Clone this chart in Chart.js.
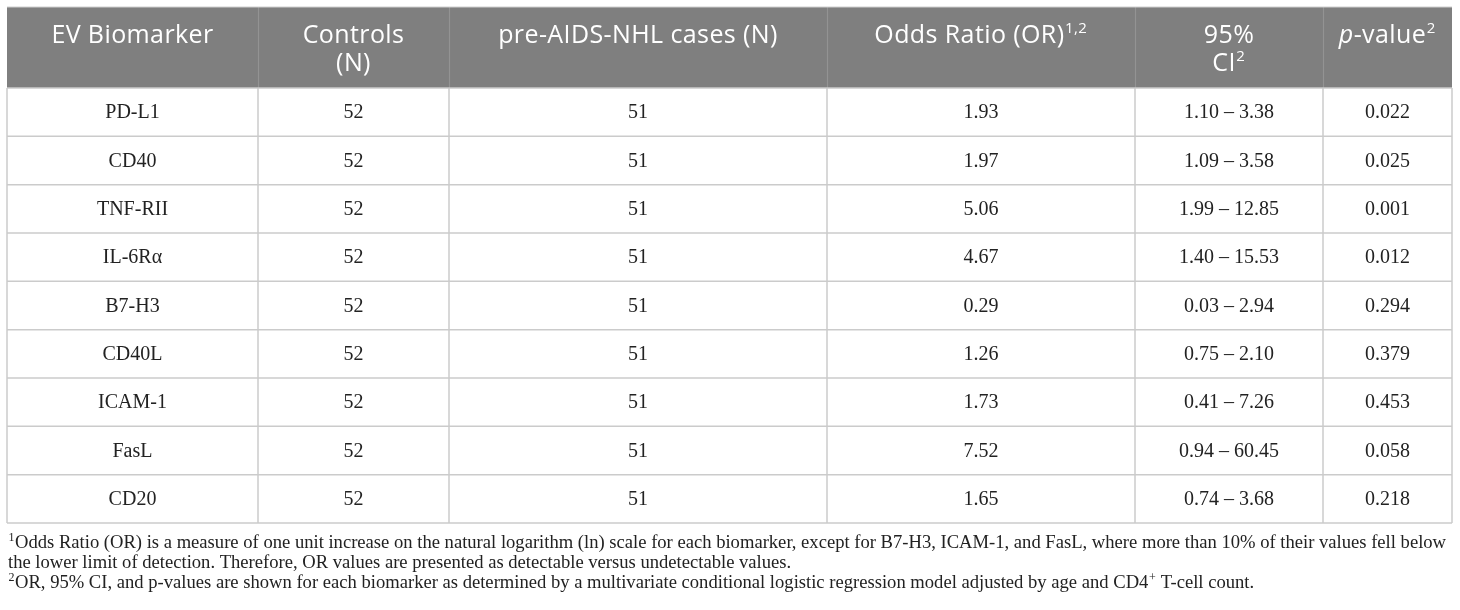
<!DOCTYPE html>
<html><head><meta charset="utf-8">
<script src="https://cdn.jsdelivr.net/npm/chart.js@4.4.1/dist/chart.umd.min.js"></script>
<style>html,body{margin:0;padding:0;background:#fff}#wrap{width:1460px;height:610px;position:relative}</style>
</head><body><div id="wrap"><canvas id="c"></canvas></div>
<script>
// ---- data ----
const biomarkers = ['PD-L1','CD40','TNF-RII','IL-6R\u03B1','B7-H3','CD40L','ICAM-1','FasL','CD20'];
const controlsN  = [52,52,52,52,52,52,52,52,52];
const casesN     = [51,51,51,51,51,51,51,51,51];
const oddsRatio  = [1.93,1.97,5.06,4.67,0.29,1.26,1.73,7.52,1.65];
const ciLow      = [1.10,1.09,1.99,1.40,0.03,0.75,0.41,0.94,0.74];
const ciHigh     = [3.38,3.58,12.85,15.53,2.94,2.10,7.26,60.45,3.68];
const pValues    = [0.022,0.025,0.001,0.012,0.294,0.379,0.453,0.058,0.218];

const headerLabels = [
  [[{t:'EV Biomarker'}]],
  [[{t:'Controls'}],[{t:'(N)'}]],
  [[{t:'pre-AIDS-NHL cases (N)'}]],
  [[{t:'Odds Ratio (OR)'},{t:'1,2',sup:true}]],
  [[{t:'95%'}],[{t:'CI'},{t:'2',sup:true}]],
  [[{t:'p',it:true},{t:'-value'},{t:'2',sup:true}]]
];
const footnotes = [
  [{t:'1',sup:true},{t:'Odds Ratio (OR) is a measure of one unit increase on the natural logarithm (ln) scale for each biomarker, except for B7-H3, ICAM-1, and FasL, where more than 10% of their values fell below'}],
  [{t:'the lower limit of detection. Therefore, OR values are presented as detectable versus undetectable values.'}],
  [{t:'2',sup:true},{t:'OR, 95% CI, and p-values are shown for each biomarker as determined by a multivariate conditional logistic regression model adjusted by age and CD4'},{t:'+',sup:true},{t:' T-cell count.'}]
];

// ---- layout (column widths in px-units of the x scale) ----
const colWidths = [251,191,378,308,188,129];
const colEdges = colWidths.reduce((a,w)=>{a.push(a[a.length-1]+w);return a;},[0]);
const HEADER_H = 81;
const HEAD_FONT = '"Open Sans", Lato, sans-serif';
const BODY_FONT = '"Liberation Serif", "Times New Roman", serif';

function cellText(r,c){
  switch(c){
    case 0: return biomarkers[r];
    case 1: return String(controlsN[r]);
    case 2: return String(casesN[r]);
    case 3: return oddsRatio[r].toFixed(2);
    case 4: return ciLow[r].toFixed(2)+' \u2013 '+ciHigh[r].toFixed(2);
    case 5: return pValues[r].toFixed(3);
  }
}

function richWidth(ctx, parts, base, supSize, fam){
  let w=0;
  for(const p of parts){
    ctx.font = (p.it?'italic ':'') + (p.sup?supSize:base) + 'px ' + fam;
    w += ctx.measureText(p.t).width + (p.sup?1:0);
  }
  return w;
}
function drawRich(ctx, parts, x, y, base, supSize, fam, raise, align){
  const w = richWidth(ctx, parts, base, supSize, fam);
  let cx = align==='center' ? x - w/2 : x;
  ctx.textAlign='left';
  ctx.textBaseline='alphabetic';
  for(const p of parts){
    ctx.font = (p.it?'italic ':'') + (p.sup?supSize:base) + 'px ' + fam;
    ctx.fillText(p.t, cx + (p.sup?0.5:0), p.sup ? y - raise : y);
    cx += ctx.measureText(p.t).width + (p.sup?1:0);
  }
}

const tablePlugin = {
  id:'tablePlugin',
  afterDraw(chart){
    const {ctx, chartArea, scales:{x,y}} = chart;
    const left = x.getPixelForValue(colEdges[0]);
    const right = x.getPixelForValue(colEdges[colEdges.length-1]);
    const top = chartArea.top, bottom = chartArea.bottom;
    const hTop = top - HEADER_H;
    const n = biomarkers.length;
    const band = (bottom-top)/n;
    ctx.save();
    // header background
    ctx.fillStyle = '#7f7f7f';
    ctx.fillRect(left, hTop, right-left, HEADER_H);
    // header vertical separators
    ctx.strokeStyle = '#939393';
    ctx.lineWidth = 1.2;
    for(let i=1;i<colEdges.length-1;i++){
      const px = Math.round(x.getPixelForValue(colEdges[i]))+0.5;
      ctx.beginPath(); ctx.moveTo(px,hTop); ctx.lineTo(px,top); ctx.stroke();
    }
    // body grid
    ctx.strokeStyle = '#cbcbcb';
    ctx.lineWidth = 1.5;
    for(let r=0;r<=n;r++){
      const py = r===n ? bottom : y.getPixelForValue(r) - band/2;
      ctx.beginPath(); ctx.moveTo(left,py); ctx.lineTo(right,py); ctx.stroke();
    }
    for(let i=0;i<colEdges.length;i++){
      const px = x.getPixelForValue(colEdges[i]);
      ctx.beginPath(); ctx.moveTo(px,top); ctx.lineTo(px,bottom); ctx.stroke();
    }
    // outer top border
    ctx.strokeStyle = '#cfcfcf';
    ctx.lineWidth = 1.2;
    ctx.beginPath(); ctx.moveTo(left,hTop); ctx.lineTo(right,hTop); ctx.stroke();
    // header text
    ctx.fillStyle = '#ffffff';
    ctx.letterSpacing = '0.4px';
    headerLabels.forEach((lines,c)=>{
      const cx = x.getPixelForValue((colEdges[c]+colEdges[c+1])/2);
      lines.forEach((parts,li)=>{
        drawRich(ctx, parts, cx, hTop + 36 + li*28, 25, 15, HEAD_FONT, 10, 'center');
      });
    });
    ctx.letterSpacing = '0px';
    // body text
    ctx.fillStyle = '#222222';
    ctx.font = '20px ' + BODY_FONT;
    ctx.textAlign = 'center';
    ctx.textBaseline = 'middle';
    for(let r=0;r<n;r++){
      const py = y.getPixelForValue(r) + 1;
      for(let c=0;c<colWidths.length;c++){
        const cx = x.getPixelForValue((colEdges[c]+colEdges[c+1])/2);
        ctx.fillText(cellText(r,c), cx, py);
      }
    }
    // footnotes
    ctx.fillStyle = '#222222';
    footnotes.forEach((parts,i)=>{
      drawRich(ctx, parts, left+1, bottom + 25 + i*20, 18.6, 12, BODY_FONT, 7, 'left');
    });
    ctx.restore();
  }
};

new Chart(document.getElementById('c'), {
  type:'bar',
  data:{ labels: biomarkers, datasets:[{ label:'Odds Ratio', data: oddsRatio, backgroundColor:'rgba(0,0,0,0)', borderWidth:0 }]},
  options:{
    indexAxis:'y',
    responsive:true, maintainAspectRatio:false, animation:false,
    devicePixelRatio:1,
    layout:{ padding:{ left:7, right:8, top:88, bottom:87 } },
    plugins:{ legend:{display:false}, tooltip:{enabled:false} },
    scales:{
      x:{ type:'linear', display:false, min:colEdges[0], max:colEdges[colEdges.length-1] },
      y:{ type:'category', display:false, offset:true }
    }
  },
  plugins:[tablePlugin]
});
</script>
</body></html>
